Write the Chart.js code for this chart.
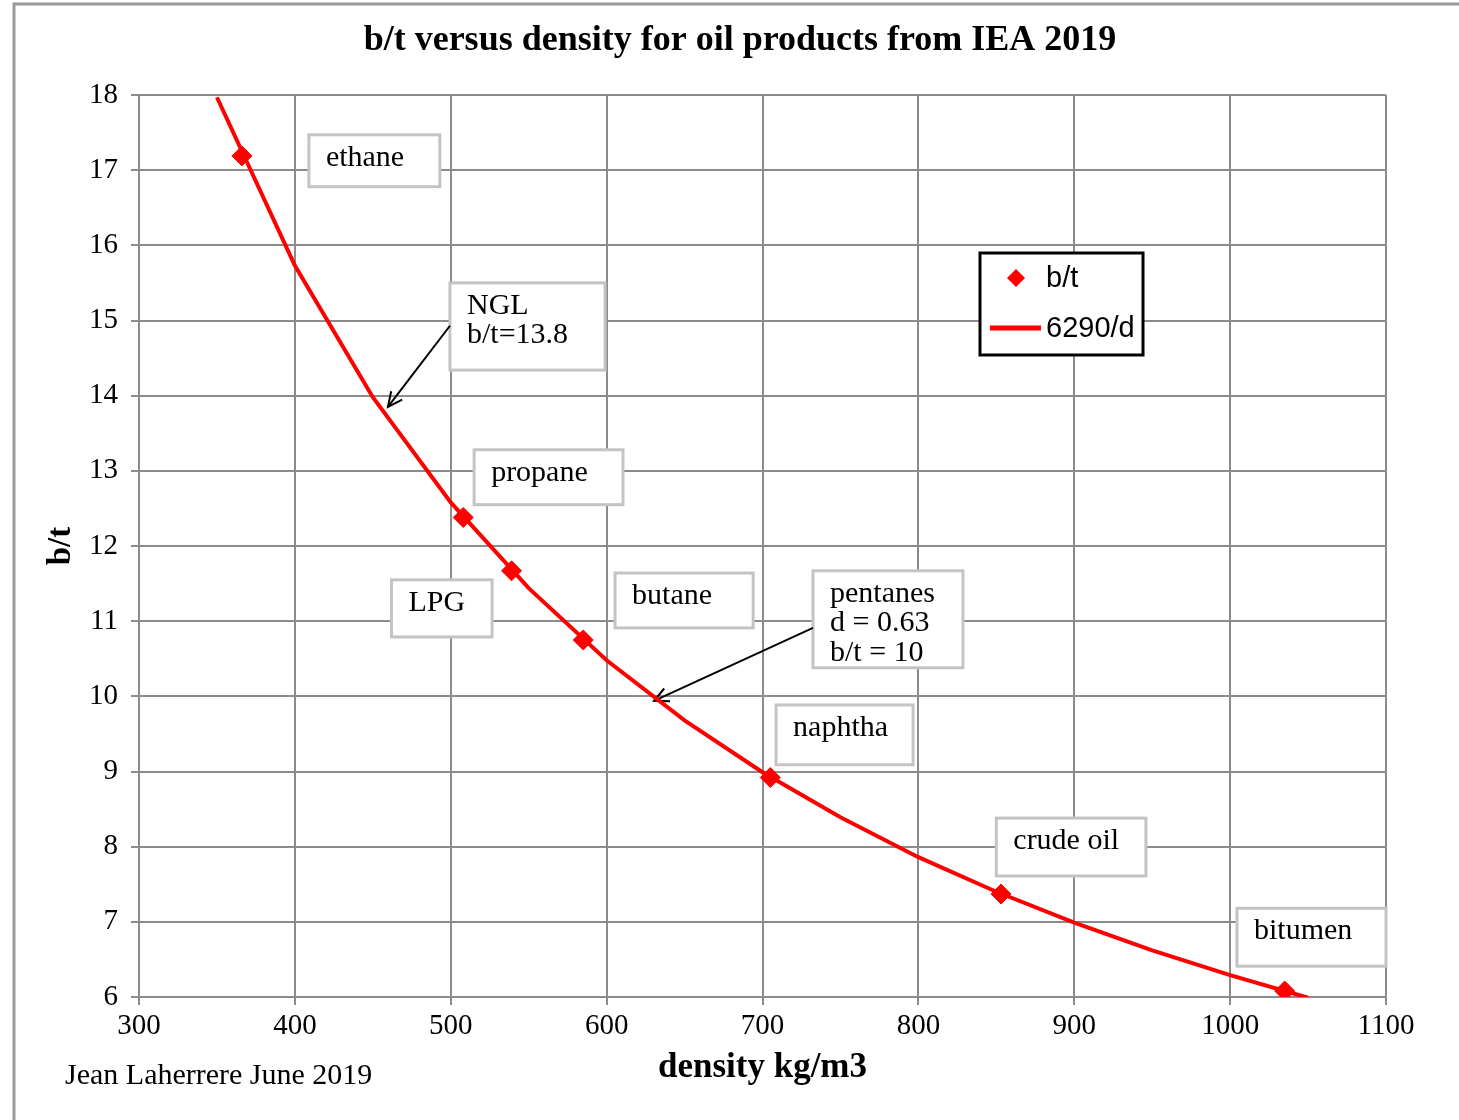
<!DOCTYPE html>
<html>
<head>
<meta charset="utf-8">
<script src="https://cdn.jsdelivr.net/npm/chart.js@4.4.1/dist/chart.umd.min.js"></script>
<style>
  html, body { margin: 0; padding: 0; background: #fff; }
  #wrap { width: 1459px; height: 1120px; position: relative; }
</style>
</head>
<body>
<div id="wrap"><canvas id="myChart" width="1459" height="1120"></canvas></div>
<script>
// curve b/t = 6290/d at 50 kg/m3 steps
const curveDensity = [350, 400, 450, 500, 550, 600, 650, 700, 750, 800, 850, 900, 950, 1000, 1050];
const curveBt = [17.97, 15.73, 13.98, 12.58, 11.44, 10.48, 9.68, 8.99, 8.39, 7.86, 7.40, 6.99, 6.62, 6.29, 5.99];

// products (diamond markers)
const productDensity = [366, 508, 539, 585, 705, 853, 1035];
const productBt = [17.19, 12.38, 11.67, 10.75, 8.92, 7.37, 6.08];

const xTicks = [300, 400, 500, 600, 700, 800, 900, 1000, 1100];
const yTicks = [6, 7, 8, 9, 10, 11, 12, 13, 14, 15, 16, 17, 18];

const seriesNames = ['b/t', '6290/d'];

// text boxes: lines of text, box corners in data units [x1, yTop, x2, yBottom]
const noteLines = [['ethane'], ['NGL', 'b/t=13.8'], ['propane'], ['LPG'], ['butane'],
                   ['pentanes', 'd = 0.63', 'b/t = 10'], ['naphtha'], ['crude oil'], ['bitumen']];
const noteBoxes = [
    [409, 17.47, 493, 16.78],
    [499.5, 15.50, 599, 14.34],
    [515, 13.28, 610.5, 12.55],
    [462, 11.55, 526.5, 10.79],
    [605.4, 11.64, 694, 10.91],
    [732.4, 11.67, 828.6, 10.38],
    [708.7, 9.885, 796.6, 9.09],
    [850, 8.38, 946, 7.61],
    [1004.4, 7.18, 1100, 6.41]
];
// arrows [fromX, fromY, toX, toY] in data units
const arrows = [
    [499.5, 14.93, 459.7, 13.85],
    [732.4, 10.91, 630.4, 9.94]
];

const serif = '"Liberation Serif", "Times New Roman", serif';
const sans = '"Liberation Sans", Arial, sans-serif';

function arrowHead(ctx, x1, y1, x2, y2) {
    var a = Math.atan2(y2 - y1, x2 - x1);
    var len = 16, spread = 0.45;
    ctx.beginPath();
    ctx.moveTo(x2 - len * Math.cos(a - spread), y2 - len * Math.sin(a - spread));
    ctx.lineTo(x2, y2);
    ctx.lineTo(x2 - len * Math.cos(a + spread), y2 - len * Math.sin(a + spread));
    ctx.stroke();
}

var extras = {
    id: 'extras',
    beforeDatasetsDraw: function(chart) {
        var ctx = chart.ctx, xs = chart.scales.x, ys = chart.scales.y;
        ctx.save();
        // text boxes
        noteBoxes.forEach(function(b, i) {
            var x1 = xs.getPixelForValue(b[0]), y1 = ys.getPixelForValue(b[1]);
            var x2 = xs.getPixelForValue(b[2]), y2 = ys.getPixelForValue(b[3]);
            ctx.fillStyle = '#fff';
            ctx.fillRect(x1, y1, x2 - x1, y2 - y1);
            ctx.strokeStyle = '#c4c4c4';
            ctx.lineWidth = 3;
            ctx.strokeRect(x1, y1, x2 - x1, y2 - y1);
            ctx.fillStyle = '#000';
            ctx.font = '30px ' + serif;
            ctx.textBaseline = 'middle';
            ctx.textAlign = 'left';
            noteLines[i].forEach(function(t, j) {
                ctx.fillText(t, x1 + 17, y1 + 23 + j * 29.5);
            });
        });
        // arrows
        ctx.strokeStyle = '#000';
        ctx.lineWidth = 2;
        arrows.forEach(function(a) {
            var x1 = xs.getPixelForValue(a[0]), y1 = ys.getPixelForValue(a[1]);
            var x2 = xs.getPixelForValue(a[2]), y2 = ys.getPixelForValue(a[3]);
            ctx.beginPath();
            ctx.moveTo(x1, y1);
            ctx.lineTo(x2, y2);
            ctx.stroke();
            arrowHead(ctx, x1, y1, x2, y2);
        });
        ctx.restore();
    },
    afterDraw: function(chart) {
        var ctx = chart.ctx, area = chart.chartArea;
        ctx.save();
        // outer frame
        ctx.strokeStyle = '#9a9a9a';
        ctx.lineWidth = 3;
        ctx.beginPath();
        ctx.moveTo(14, 1120);
        ctx.lineTo(14, 4);
        ctx.lineTo(1459, 4);
        ctx.stroke();

        ctx.fillStyle = '#000';
        ctx.textBaseline = 'middle';
        ctx.textAlign = 'center';
        ctx.font = 'bold 36px ' + serif;
        ctx.fillText('b/t versus density for oil products from IEA 2019', 740, 41);
        ctx.font = 'bold 35px ' + serif;
        ctx.fillText('density kg/m3', (area.left + area.right) / 2, 1068);
        ctx.save();
        ctx.translate(61, 546);
        ctx.rotate(-Math.PI / 2);
        ctx.font = 'bold 33px ' + serif;
        ctx.fillText('b/t', 0, 0);
        ctx.restore();
        ctx.textAlign = 'left';
        ctx.font = '30px ' + serif;
        ctx.fillText('Jean Laherrere June 2019', 65, 1076);

        // legend
        var lx = area.right - 406, ly = area.top + 158;
        ctx.fillStyle = '#fff';
        ctx.fillRect(lx, ly, 163, 102);
        ctx.strokeStyle = '#000';
        ctx.lineWidth = 3;
        ctx.strokeRect(lx, ly, 163, 102);
        ctx.fillStyle = 'red';
        ctx.beginPath();
        ctx.moveTo(lx + 36, ly + 16);
        ctx.lineTo(lx + 45, ly + 25);
        ctx.lineTo(lx + 36, ly + 34);
        ctx.lineTo(lx + 27, ly + 25);
        ctx.closePath();
        ctx.fill();
        ctx.strokeStyle = 'red';
        ctx.lineWidth = 5;
        ctx.beginPath();
        ctx.moveTo(lx + 10, ly + 75);
        ctx.lineTo(lx + 61, ly + 75);
        ctx.stroke();
        ctx.fillStyle = '#000';
        ctx.font = '29px ' + sans;
        ctx.fillText(seriesNames[0], lx + 66, ly + 26);
        ctx.fillText(seriesNames[1], lx + 66, ly + 76);
        ctx.restore();
    }
};

var ctx = document.getElementById('myChart');
var myChart = new Chart(ctx, {
    type: 'scatter',
    data: {
        datasets: [{
            label: seriesNames[1],
            data: curveDensity.map((d, i) => ({x: d, y: curveBt[i]})),
            showLine: true,
            borderColor: 'red',
            borderWidth: 4,
            pointRadius: 0,
            tension: 0,
            order: 2
        }, {
            label: seriesNames[0],
            data: productDensity.map((d, i) => ({x: d, y: productBt[i]})),
            pointStyle: 'rectRot',
            pointRadius: 10,
            backgroundColor: 'red',
            borderColor: 'red',
            borderWidth: 1,
            order: 1
        }]
    },
    options: {
        responsive: false,
        animation: false,
        layout: { padding: { top: 95, right: 73, left: 0, bottom: 0 } },
        plugins: {
            legend: { display: false },
            tooltip: { enabled: false },
            title: { display: false }
        },
        scales: {
            x: {
                type: 'linear',
                min: xTicks[0],
                max: xTicks[xTicks.length - 1],
                afterBuildTicks: function(scale) { scale.ticks = xTicks.map(v => ({value: v})); },
                afterFit: function(scale) { scale.height = 123; },
                grid: { color: '#8c8c8c', lineWidth: 2, tickLength: 8 },
                border: { color: '#8c8c8c', width: 2 },
                ticks: {
                    color: '#000', font: { family: serif, size: 29 }, padding: 4, maxRotation: 0,
                    callback: function(v) { return String(v); }
                }
            },
            y: {
                type: 'linear',
                min: yTicks[0],
                max: yTicks[yTicks.length - 1],
                afterBuildTicks: function(scale) { scale.ticks = yTicks.map(v => ({value: v})); },
                afterFit: function(scale) { scale.width = 139; },
                grid: { color: '#8c8c8c', lineWidth: 2, tickLength: 8 },
                border: { color: '#8c8c8c', width: 2 },
                ticks: { color: '#000', font: { family: serif, size: 29 }, padding: 13 }
            }
        }
    },
    plugins: [extras]
});
</script>
</body>
</html>
